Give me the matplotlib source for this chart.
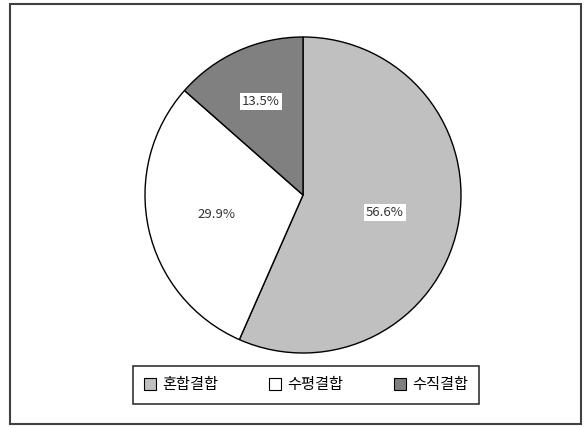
import numpy as np
import matplotlib.pyplot as plt
from matplotlib.patches import Rectangle

plt.rcParams['font.family'] = ['Noto Sans CJK KR', 'DejaVu Sans']

labels = ["혼합결합", "수평결합", "수직결합"]
values = [56.6, 29.9, 13.5]
colors = ["#c0c0c0", "#ffffff", "#808080"]

W, H = 587, 428
fig = plt.figure(figsize=(W / 100, H / 100), dpi=100)

# outer frame
fig.patches.append(Rectangle((10 / W, 4 / H), 571 / W, 420 / H, transform=fig.transFigure,
                             fill=False, edgecolor="#404040", linewidth=1.5))

cx, cy, r = 303, 195, 158
ax = fig.add_axes([(cx - r) / W, (H - cy - r) / H, 2 * r / W, 2 * r / H])
wedges, texts = ax.pie(values, colors=colors, startangle=90, counterclock=False,
                       wedgeprops=dict(edgecolor="black", linewidth=1.0))
ax.set_xlim(-1, 1)
ax.set_ylim(-1, 1)
ax.set_aspect("equal")
ax.axis("off")

dists = [0.53, 0.56, 0.65]
for w, v, d in zip(wedges, values, dists):
    ang = np.deg2rad((w.theta1 + w.theta2) / 2)
    bbox = dict(facecolor="white", edgecolor="none", pad=1.5) if w.get_facecolor()[0] < 0.9 else None
    ax.text(d * np.cos(ang), d * np.sin(ang), f"{v:.1f}%", ha="center", va="center",
            fontsize=9.5, color="#333333", bbox=bbox)

handles = [Rectangle((0, 0), 1, 1, facecolor=c, edgecolor="black", linewidth=0.8) for c in colors]
leg = fig.legend(handles, labels, loc="center", bbox_to_anchor=(306 / W, 1 - 385 / H), ncol=3,
                 frameon=True, fancybox=False, edgecolor="black", fontsize=11,
                 handlelength=0.8, handleheight=0.8, handletextpad=0.4, columnspacing=3.3,
                 borderpad=0.7)
leg.get_frame().set_linewidth(1.2)

fig.savefig("out.png", dpi=100)
